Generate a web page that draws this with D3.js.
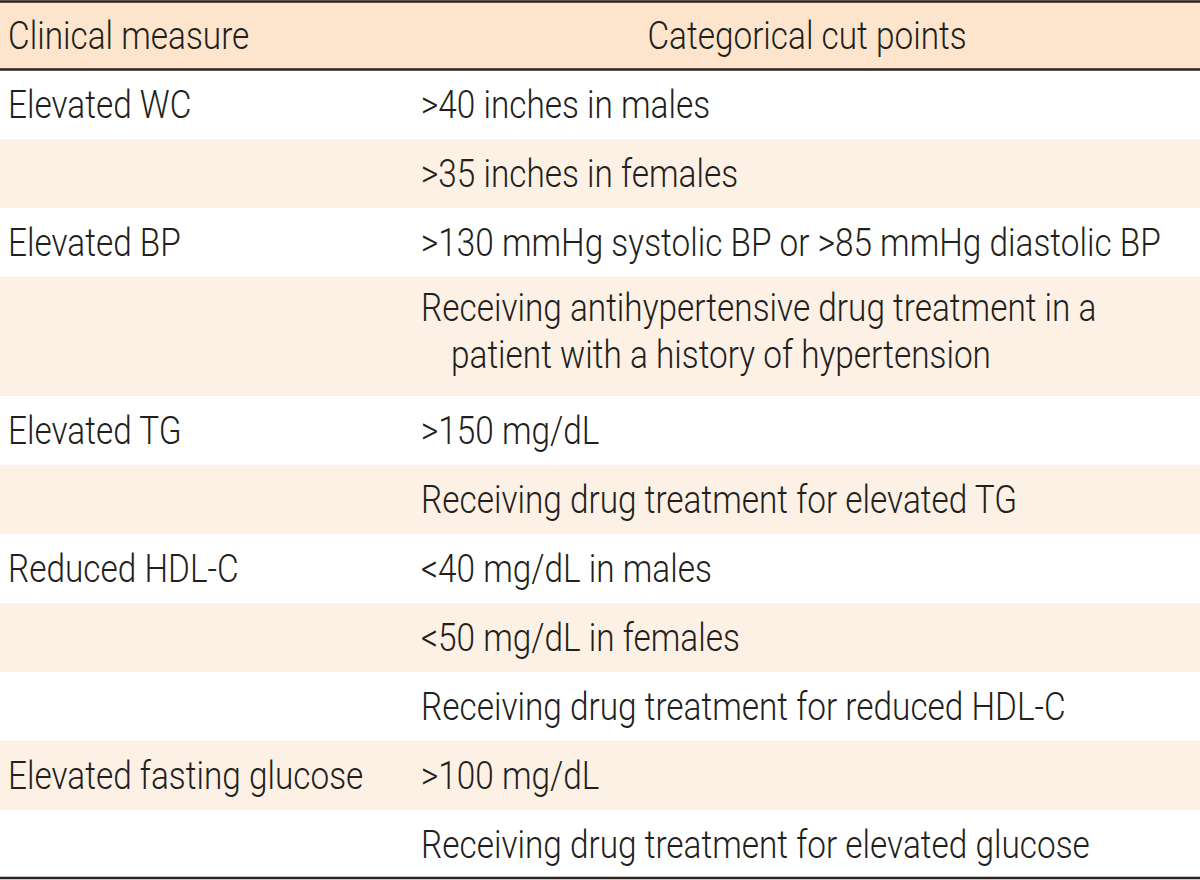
<!DOCTYPE html>
<html>
<head>
<meta charset="utf-8">
<script src="https://cdn.jsdelivr.net/npm/d3@7"></script>
<style>
  html, body { margin: 0; padding: 0; background: #ffffff; }
  svg { display: block; }
</style>
</head>
<body>
<div id="chart"></div>
<script>
// ---- Data ----
const headers = ["Clinical measure", "Categorical cut points"];
const measures = ["Elevated WC", "Elevated BP", "Elevated TG", "Reduced HDL-C", "Elevated fasting glucose"];
const cutPoints = [
  [">40 inches in males", ">35 inches in females"],
  [">130 mmHg systolic BP or >85 mmHg diastolic BP",
   ["Receiving antihypertensive drug treatment in a", "patient with a history of hypertension"]],
  [">150 mg/dL", "Receiving drug treatment for elevated TG"],
  ["<40 mg/dL in males", "<50 mg/dL in females", "Receiving drug treatment for reduced HDL-C"],
  [">100 mg/dL", "Receiving drug treatment for elevated glucose"]
];

// ---- Layout ----
const W = 1200, H = 880;
const headerH = 69;
const lineH = 69, extraLineH = 50;
const colLeftX = 8, colRightX = 421, indent = 30;
const fontFamily = "Roboto, 'Liberation Sans', Arial, sans-serif";
const fontWeight = 300;
const fontSize = 38;
const refText = "Receiving drug treatment for elevated glucose", refWidth = 669;
const textColor = "#231f1c";
const ruleColor = "#2a211d";
const headerFill = "#fde5cd";
const altFill = "#fdf0e5";

// flatten rows
const rows = [];
measures.forEach((m, i) => {
  cutPoints[i].forEach((c, j) => {
    const lines = Array.isArray(c) ? c : [c];
    rows.push({ measure: j === 0 ? m : "", lines });
  });
});
let y = headerH + 1;
rows.forEach((r, i) => {
  r.y = y;
  r.h = lineH + (r.lines.length - 1) * extraLineH;
  r.fill = i % 2 === 1 ? altFill : "#ffffff";
  y += r.h;
});

const svg = d3.select("#chart").append("svg")
  .attr("width", W).attr("height", H)
  .style("font-family", fontFamily)
  .style("font-weight", fontWeight)
  .style("font-size", fontSize + "px");

// horizontal condensing factor (measure reference string)
const probe = svg.append("text").text(refText);
const sx = refWidth / probe.node().getComputedTextLength();
probe.remove();

function addText(parent, x, yy, t, anchor) {
  return parent.append("text")
    .attr("transform", `translate(${x},${yy}) scale(${sx},1)`)
    .attr("text-anchor", anchor || "start")
    .attr("fill", textColor)
    .text(t);
}

// header background
svg.append("rect").attr("x", 0).attr("y", 0).attr("width", W).attr("height", headerH + 1)
  .attr("fill", headerFill);

// row backgrounds
svg.selectAll("rect.row").data(rows).join("rect")
  .attr("class", "row")
  .attr("x", 0).attr("y", d => d.y).attr("width", W).attr("height", d => d.h)
  .attr("fill", d => d.fill);

// header texts
const capShift = fontSize * 0.355;
addText(svg, colLeftX, headerH / 2 + 1 + capShift, headers[0]);
addText(svg, 807, headerH / 2 + 1 + capShift, headers[1], "middle");

// body texts
svg.selectAll("g.r").data(rows).join("g").attr("class", "r").each(function(d) {
  const sel = d3.select(this);
  addText(sel, colLeftX, d.y + lineH / 2 + capShift, d.measure);
  d.lines.forEach((t, k) => {
    addText(sel, colRightX + (k > 0 ? indent : 0),
      d.y + lineH / 2 - 4 * (d.lines.length - 1) + capShift + k * (extraLineH - 3), t);
  });
});

// rules
const rules = [1.5, headerH + 0.5, H - 2];
svg.selectAll("line.rule").data(rules).join("line")
  .attr("x1", 0).attr("x2", W)
  .attr("y1", d => d).attr("y2", d => d)
  .attr("stroke", ruleColor).attr("stroke-width", 2.6);
</script>
</body>
</html>
